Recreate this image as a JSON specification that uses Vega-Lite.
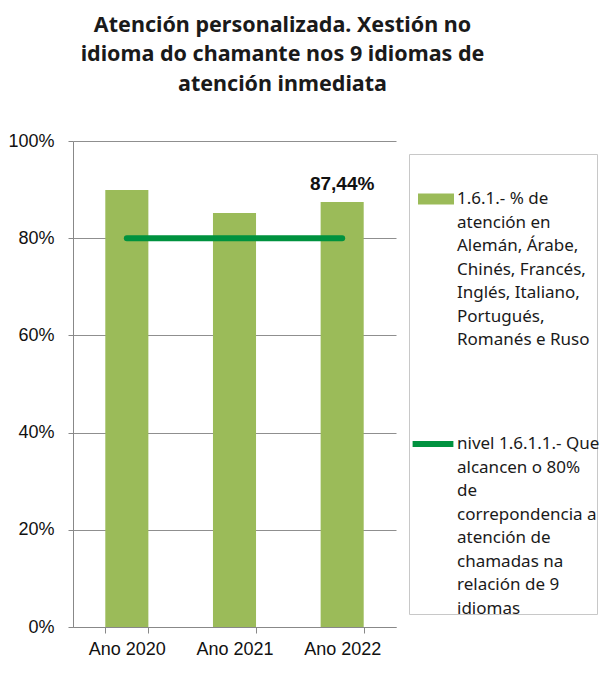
{
  "$schema": "https://vega.github.io/schema/vega-lite/v6.json",
  "width": 323,
  "height": 486,
  "autosize": {"type": "none"},
  "padding": {"left": 73, "top": 141, "right": 215, "bottom": 50},
  "background": "white",
  "title": {
    "text": ["Atención personalizada. Xestión no", "idioma do chamante nos 9 idiomas de", "atención inmediata"],
    "font": "Noto Sans",
    "fontSize": 21.5,
    "fontWeight": "bold",
    "color": "#1a1a1a",
    "lineHeight": 29.5,
    "anchor": "middle",
    "dx": 48,
    "offset": 37
  },
  "data": {
    "values": [
      {"ano": "Ano 2020", "pct": 0.899, "meta": 0.8, "etiqueta": ""},
      {"ano": "Ano 2021", "pct": 0.852, "meta": 0.8, "etiqueta": ""},
      {"ano": "Ano 2022", "pct": 0.8744, "meta": 0.8, "etiqueta": "87,44%"}
    ]
  },
  "encoding": {
    "x": {
      "field": "ano",
      "type": "nominal",
      "sort": null,
      "title": null,
      "scale": {"paddingInner": 0.6, "paddingOuter": 0.3},
      "axis": {
        "labelAngle": 0,
        "tickBand": "extent",
        "labelFont": "Liberation Sans",
        "labelFontSize": 18,
        "labelColor": "#111111",
        "labelPadding": 7,
        "tickSize": 6,
        "tickColor": "#888888",
        "domainColor": "#888888",
        "grid": false
      }
    }
  },
  "layer": [
    {
      "mark": {"type": "bar"},
      "encoding": {
        "y": {
          "field": "pct",
          "type": "quantitative",
          "title": null,
          "scale": {"domain": [0, 1]},
          "axis": {
            "values": [0, 0.2, 0.4, 0.6, 0.8, 1],
            "format": ".0%",
            "labelFont": "Liberation Sans",
            "labelFontSize": 18,
            "labelColor": "#111111",
            "labelPadding": 14,
            "tickSize": 5,
            "tickColor": "#888888",
            "domainColor": "#888888",
            "gridColor": "#8f8f8f",
            "gridWidth": 1
          }
        },
        "fill": {
          "datum": "1.6.1.- % de|atención  en|Alemán, Árabe,|Chinés, Francés,|Inglés, Italiano,|Portugués,|Romanés e Ruso||||||                                 |||||",
          "type": "nominal",
          "scale": {"range": ["#9BBB59"]},
          "legend": {
            "title": " ",
            "titleFontSize": 10,
            "titlePadding": 0,
            "orient": "none",
            "legendX": 336,
            "legendY": 13,
            "strokeColor": "#c8c8c8",
            "padding": 7,
            "labelExpr": "split(datum.label, '|')",
            "labelFont": "Noto Sans",
            "labelFontSize": 17,
            "labelColor": "#1a1a1a",
            "labelLimit": 220,
            "labelOffset": 1,
            "labelBaseline": "top",
            "symbolType": "M-0.9,0.125H0.9V0.675H-0.9Z",
            "symbolSize": 1600,
            "symbolStrokeWidth": 0
          }
        }
      }
    },
    {
      "mark": {"type": "line", "strokeWidth": 6, "strokeCap": "round"},
      "encoding": {
        "y": {"field": "meta", "type": "quantitative"},
        "stroke": {
          "datum": "nivel 1.6.1.1.- Que|alcancen o 80%|de|correpondencia a|atención de|chamadas na|relación de 9|idiomas",
          "type": "nominal",
          "scale": {"range": ["#00923F"]},
          "legend": {
            "title": " ",
            "titleFontSize": 2,
            "titlePadding": 0,
            "orient": "none",
            "legendX": 330,
            "legendY": 263,
            "padding": 7,
            "labelExpr": "split(datum.label, '|')",
            "labelFont": "Noto Sans",
            "labelFontSize": 17,
            "labelColor": "#1a1a1a",
            "labelLimit": 220,
            "labelOffset": 1,
            "labelBaseline": "top",
            "symbolType": "M-1.02,0.4H1.02",
            "symbolSize": 1600,
            "symbolStrokeWidth": 6
          }
        }
      }
    },
    {
      "mark": {"type": "text", "dy": -12, "baseline": "alphabetic", "font": "Liberation Sans", "fontSize": 19, "fontWeight": "bold", "color": "#111111"},
      "encoding": {
        "y": {"field": "pct", "type": "quantitative"},
        "text": {"field": "etiqueta"}
      }
    }
  ],
  "config": {
    "view": {"stroke": null},
    "style": {"guide-label": {"lineHeight": 23.5}}
  }
}
